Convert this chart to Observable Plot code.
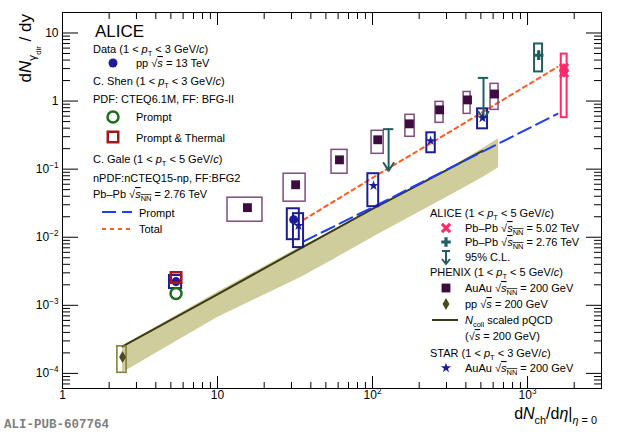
<!DOCTYPE html>
<html><head><meta charset="utf-8">
<script src="https://cdn.jsdelivr.net/npm/d3@7"></script>
<script src="https://cdn.jsdelivr.net/npm/@observablehq/plot@0.6"></script>
<style>
body{margin:0;background:#fff;}
#chart svg{display:block;}
</style></head><body><div id="chart"></div>
<script>
// ---------------- data ----------------
// ALICE pp 13 TeV (MB, high multiplicity)
const ppX = [5.4, 31];
const ppY = [2.23e-3, 1.81e-2];
const ppBoxXlo = [4.9, 28.2], ppBoxXhi = [5.87, 33.7];
const ppBoxYlo = [1.76e-3, 9.2e-3], ppBoxYhi = [2.74e-3, 2.62e-2];
// C. Shen pp 13 TeV
const shenX = [5.4];
const shenPromptY = [1.49e-3];
const shenThermalY = [2.56e-3];
// PHENIX AuAu 200 GeV
const phenixX = [15.6, 31.9, 61.2, 108, 173, 271, 410, 612];
const phenixY = [0.0272, 0.059, 0.137, 0.27, 0.463, 0.743, 1.04, 1.27];
const phenixXlo = [11.6, 26.7, 54.4, 98.6, 163, 255, 387, 577];
const phenixXhi = [19.5, 37, 69, 118, 187, 287, 429, 650];
const phenixYlo = [0.0169, 0.0333, 0.0857, 0.168, 0.299, 0.479, 0.649, 0.743];
const phenixYhi = [0.0381, 0.0857, 0.192, 0.366, 0.628, 0.973, 1.36, 1.79];
// PHENIX pp 200 GeV
const phppX = [2.44], phppY = [1.74e-4];
const phppXlo = [2.26], phppXhi = [2.59], phppYlo = [1.02e-4], phppYhi = [2.5e-4];
// STAR AuAu 200 GeV
const starX = [33.3, 101.5, 237, 512];
const starY = [0.0148, 0.0571, 0.261, 0.567];
const starXlo = [30.9, 93.3, 224, 476], starXhi = [35.9, 109.6, 254, 552];
const starYlo = [7.04e-3, 0.0281, 0.174, 0.391], starYhi = [0.0222, 0.0857, 0.342, 0.769];
// ALICE Pb-Pb 5.02 TeV
const a502X = [1720, 1720];
const a502Y = [3.07, 2.59];
const a502Elo = [2.65, 2.2], a502Ehi = [3.5, 3.0];
const a502BoxXlo = [1650, 1650], a502BoxXhi = [1800, 1800], a502BoxYlo = [0.57, 0.57], a502BoxYhi = [4.9, 4.9];
// ALICE Pb-Pb 2.76 TeV
const a276X = [1180], a276Y = [4.71], a276Elo = [4.0], a276Ehi = [5.5];
const a276BoxXlo = [1110], a276BoxXhi = [1250], a276BoxYlo = [2.68], a276BoxYhi = [6.9];
// ALICE 95% C.L. upper limits
const ulX = [127, 520];
const ulY = [0.387, 2.19];
// C. Gale Pb-Pb 2.76 TeV
const galeX = [36, 108, 300, 1560];
const galePrompt = [0.0087, 0.030, 0.098, 0.649];
const galeTotal = [0.0181, 0.083, 0.33, 3.17];
// Ncoll scaled pQCD (200 GeV)
const ncollX = [2.44, 10, 36, 100, 300, 512];
const ncollY = [2.49e-4, 1.45e-3, 7.3e-3, 0.026, 0.097, 0.186];
const bandX = [2.44, 10, 35, 55, 110, 300, 512, 650];
const bandHi = [2.5e-4, 1.55e-3, 7.4e-3, 0.0118, 0.0275, 0.097, 0.2, 0.279];
const bandLo = [1.02e-4, 6.6e-4, 2.6e-3, 4.6e-3, 0.0112, 0.0385, 0.0745, 0.105];
// axes
const xMajor = [1, 10, 100, 1000];
const xLabels = ["1", "10", "10^{2}", "10^{3}"];
const yMajor = [1e-4, 1e-3, 1e-2, 1e-1, 1, 10];
const yLabels = ["10^{−4}", "10^{−3}", "10^{−2}", "10^{−1}", "1", "10"];

// ---------------- tables ----------------
const zip = (keys, arrs) => arrs[0].map((_, i) => Object.fromEntries(keys.map((k, j) => [k, arrs[j][i]])));
const B = ["x", "y", "x1", "x2", "y1", "y2"];
const pp = zip(B, [ppX, ppY, ppBoxXlo, ppBoxXhi, ppBoxYlo, ppBoxYhi]);
const shen = zip(["x", "p", "t"], [shenX, shenPromptY, shenThermalY]);
const phenix = zip(B, [phenixX, phenixY, phenixXlo, phenixXhi, phenixYlo, phenixYhi]);
const phpp = zip(B, [phppX, phppY, phppXlo, phppXhi, phppYlo, phppYhi]);
const star = zip(B, [starX, starY, starXlo, starXhi, starYlo, starYhi]);
const a502 = zip([...B, "lo", "hi"], [a502X, a502Y, a502BoxXlo, a502BoxXhi, a502BoxYlo, a502BoxYhi, a502Elo, a502Ehi]);
const a276 = zip([...B, "lo", "hi"], [a276X, a276Y, a276BoxXlo, a276BoxXhi, a276BoxYlo, a276BoxYhi, a276Elo, a276Ehi]);
const ul = zip(["x", "y"], [ulX, ulY]);
const gale = zip(["x", "p", "t"], [galeX, galePrompt, galeTotal]);
const ncoll = zip(["x", "y"], [ncollX, ncollY]);
const band = zip(["x", "hi", "lo"], [bandX, bandHi, bandLo]);

const minor = (lo, hi) => { const a = []; for (let e = lo; e <= hi; e++) for (let m = 2; m <= 9; m++) a.push(m * Math.pow(10, e)); return a; };
const xMinor = minor(0, 3).filter(v => v <= 3000);
const yMinor = minor(-5, 1).filter(v => v >= 6e-5 && v <= 20);

// ---------------- colours ----------------
const C = {
  navy: "#1c1c96", green: "#1b6e1b", red: "#a81616", purple: "#3e0d40", purpleBox: "#7d4e7d",
  olive: "#4b4a1c", oliveBox: "#7c7a30", band: "#cfcd9c", ncoll: "#3b3a12", teal: "#1f5f5f",
  pink: "#ff2a6a", orange: "#ff5a1f", blue: "#1f3cf5"
};
const box = (data, stroke, sw) => Plot.rect(data, {x1: "x1", x2: "x2", y1: "y1", y2: "y2", fill: "none", stroke, strokeWidth: sw});
const blank = () => "";

const plot = Plot.plot({
  width: 620, height: 433,
  marginLeft: 62, marginRight: 19, marginTop: 12, marginBottom: 45,
  style: {fontFamily: "'Liberation Sans', Arial, sans-serif", fontSize: "12px", background: "white", overflow: "visible"},
  x: {type: "log", domain: [1, 3000]},
  y: {type: "log", domain: [6e-5, 20]},
  marks: [
    Plot.areaY(band, {x: "x", y1: "lo", y2: "hi", fill: C.band}),
    Plot.line(ncoll, {x: "x", y: "y", stroke: C.ncoll, strokeWidth: 2}),
    Plot.line(gale, {x: "x", y: "p", stroke: C.blue, strokeWidth: 2, strokeDasharray: "14,6"}),
    Plot.line(gale, {x: "x", y: "t", stroke: C.orange, strokeWidth: 2, strokeDasharray: "4,4"}),
    box(phenix, C.purpleBox, 1.5),
    box(phpp, C.oliveBox, 1.5),
    box(star, C.navy, 2),
    box(pp, C.navy, 2),
    box(a502.slice(0, 1), C.pink, 2),
    box(a276, C.teal, 2),
    Plot.ruleX(a502, {x: "x", y1: "lo", y2: "hi", stroke: C.pink, strokeWidth: 2}),
    Plot.ruleX(a276, {x: "x", y1: "lo", y2: "hi", stroke: C.teal, strokeWidth: 2}),
    Plot.ruleY(ul, {y: "y", x1: d => d.x / 1.08, x2: d => d.x * 1.08, stroke: C.teal, strokeWidth: 2}),
    Plot.arrow(ul, {x1: "x", x2: "x", y1: "y", y2: d => d.y / 4.1, stroke: C.teal, strokeWidth: 2, headLength: 7, headAngle: 64}),
    Plot.dot(phpp, {x: "x", y: "y", symbol: "diamond", r: 3.6, fill: C.olive}),
    Plot.dot(shen, {x: "x", y: "p", symbol: "circle", r: 5.5, stroke: C.green, strokeWidth: 2.5, fill: "none"}),
    Plot.dot(pp, {x: "x", y: "y", symbol: "circle", r: 4.5, fill: C.navy}),
    Plot.dot(shen, {x: "x", y: "t", symbol: "square", r: 5.9, stroke: C.red, strokeWidth: 2.5, fill: "none"}),
    Plot.dot(phenix, {x: "x", y: "y", symbol: "square", r: 5, fill: C.purple}),
    Plot.dot(star, {x: "x", y: "y", symbol: "star", r: 3.2, fill: C.navy}),
    Plot.dot(a276, {x: "x", y: "y", symbol: "cross", r: 4, fill: C.teal}),
    Plot.dot(a502, {x: "x", y: "y", symbol: "times", r: 3.8, stroke: C.pink, strokeWidth: 3}),
    Plot.frame({stroke: "black", strokeWidth: 1}),
    Plot.axisX(xMajor, {anchor: "bottom", tickSize: -12, tickPadding: 14, fontSize: 12, label: null, tickFormat: d => xLabels[xMajor.indexOf(d)]}),
    Plot.axisX(xMinor, {anchor: "bottom", tickSize: -6, label: null, tickFormat: blank}),
    Plot.axisX(xMajor, {anchor: "top", tickSize: -12, label: null, tickFormat: blank}),
    Plot.axisX(xMinor, {anchor: "top", tickSize: -6, label: null, tickFormat: blank}),
    Plot.axisY(yMajor, {anchor: "left", tickSize: -16, tickPadding: 20, fontSize: 12, label: null, tickFormat: d => yLabels[yMajor.indexOf(d)]}),
    Plot.axisY(yMinor, {anchor: "left", tickSize: -8, label: null, tickFormat: blank}),
    Plot.axisY(yMajor, {anchor: "right", tickSize: -16, label: null, tickFormat: blank}),
    Plot.axisY(yMinor, {anchor: "right", tickSize: -8, label: null, tickFormat: blank})
  ]
});
document.getElementById("chart").appendChild(plot);

// ---------------- rich text ----------------
const NS = "http://www.w3.org/2000/svg";
function parse(s) {
  const out = [], stack = [{sub: 0, sup: 0, it: false, over: false}]; let buf = "";
  const flush = () => { if (buf) { out.push({...stack[stack.length - 1], text: buf}); buf = ""; } };
  for (let i = 0; i < s.length; i++) {
    const c = s[i];
    if ("_^*~".includes(c) && s[i + 1] === "{") {
      flush(); const t = {...stack[stack.length - 1]};
      if (c === "_") t.sub++; if (c === "^") t.sup++; if (c === "*") t.it = true; if (c === "~") t.over = true;
      stack.push(t); i++;
    } else if (c === "}" && stack.length > 1) { flush(); stack.pop(); }
    else buf += c;
  }
  flush(); return out;
}
function rich(el, s) {
  const base = parseFloat(getComputedStyle(el).fontSize) || 12;
  el.textContent = "";
  let cur = 0;
  for (const g of parse(s)) {
    const ts = document.createElementNS(NS, "tspan");
    const target = g.sub * 0.3 * base - g.sup * 0.42 * base;
    if (Math.abs(target - cur) > 1e-6) { ts.setAttribute("dy", (target - cur).toFixed(2)); cur = target; }
    const lv = g.sub + g.sup;
    if (lv) ts.setAttribute("font-size", (base * Math.pow(0.68, lv)).toFixed(2));
    if (g.it) ts.setAttribute("font-style", "italic");
    if (g.over) ts.setAttribute("text-decoration", "overline");
    ts.textContent = g.text;
    el.appendChild(ts);
  }
}
const svg = d3.select(plot);
svg.selectAll("text").each(function () { const t = this.textContent; if (/[_^*~]\{/.test(t)) rich(this, t); });

function label(x, y, s, size = 11, opts = {}) {
  const t = svg.append("text").attr("x", x).attr("y", y).attr("font-size", size)
    .attr("font-family", opts.family || "'Liberation Sans', Arial, sans-serif")
    .attr("fill", opts.fill || "black").attr("text-anchor", opts.anchor || "start");
  if (opts.weight) t.attr("font-weight", opts.weight);
  if (opts.transform) t.attr("transform", opts.transform).attr("x", null).attr("y", null);
  rich(t.node(), s);
  return t;
}
function sym(type, x, y, r, attrs) {
  const p = svg.append("path").attr("transform", `translate(${x},${y})`).attr("d", d3.symbol(type, Math.PI * r * r)());
  for (const k in attrs) p.attr(k, attrs[k]);
}
function seg(x1, x2, y, stroke, dash, sw = 2) {
  svg.append("line").attr("x1", x1).attr("x2", x2).attr("y1", y).attr("y2", y)
    .attr("stroke", stroke).attr("stroke-width", sw).attr("stroke-dasharray", dash || null);
}

// titles
label(0, 0, "d*{N}_{γ_{dir}} / dy", 17, {anchor: "end", transform: "translate(31,14) rotate(-90)"});
label(597, 419, "d*{N}_{ch}/d*{η}|_{*{η} = 0}", 16, {anchor: "end"});
label(4, 428, "ALI-PUB-607764", 12.5, {family: "'Liberation Mono', 'DejaVu Sans Mono', monospace", fill: "#808080", weight: "bold"});

// left legend
label(95, 37, "ALICE", 17);
label(93, 53, "Data (1 < *{p}_{T} < 3 GeV/*{c})");
sym(d3.symbolCircle, 113, 63, 4.5, {fill: C.navy});
label(136, 67, "pp √~{*{s}} = 13 TeV");
label(93, 85, "C. Shen (1 < *{p}_{T} < 3 GeV/*{c})");
label(93, 103, "PDF: CTEQ6.1M, FF: BFG-II");
sym(d3.symbolCircle, 113, 117, 5.5, {fill: "none", stroke: C.green, "stroke-width": 2.5});
label(136, 121, "Prompt");
sym(d3.symbolSquare, 113, 137, 5.9, {fill: "none", stroke: C.red, "stroke-width": 2.5});
label(136, 142, "Prompt & Thermal");
label(93, 163, "C. Gale (1 < *{p}_{T} < 5 GeV/*{c})");
label(93, 182, "nPDF:nCTEQ15-np, FF:BFG2");
label(93, 198, "Pb–Pb √~{*{s}_{NN}} = 2.76 TeV");
seg(102, 132, 212, C.blue, "14,6");
label(139, 217, "Prompt");
seg(102, 132, 229, C.orange, "4,4");
label(139, 233, "Total");

// right legend
label(430, 217, "ALICE (1 < *{p}_{T} < 5 GeV/*{c})");
sym(d3.symbolTimes, 446, 228, 3.8, {fill: "none", stroke: C.pink, "stroke-width": 3});
label(465, 232, "Pb–Pb √~{*{s}_{NN}} = 5.02 TeV");
sym(d3.symbolCross, 446, 242, 4, {fill: C.teal});
label(465, 246, "Pb–Pb √~{*{s}_{NN}} = 2.76 TeV");
seg(442, 450, 251, C.teal, null, 2);
svg.append("path").attr("d", "M446,251V264M442,259L446,264L450,259").attr("fill", "none").attr("stroke", C.teal).attr("stroke-width", 2);
label(465, 261, "95% C.L.");
label(430, 276, "PHENIX (1 < *{p}_{T} < 5 GeV/*{c})");
sym(d3.symbolSquare, 446, 288, 5, {fill: C.purple});
label(465, 292, "AuAu √~{*{s}_{NN}} = 200 GeV");
sym(d3.symbolDiamond, 446, 304, 3.6, {fill: C.olive});
label(465, 308, "pp √~{*{s}} = 200 GeV");
seg(432, 458, 320, C.ncoll, null, 2);
label(465, 324, "*{N}_{coll} scaled pQCD");
label(465, 340, "(√~{*{s}} = 200 GeV)");
label(430, 357, "STAR (1 < *{p}_{T} < 3 GeV/*{c})");
sym(d3.symbolStar, 446, 368, 3.2, {fill: C.navy});
label(465, 372, "AuAu √~{*{s}_{NN}} = 200 GeV");
</script></body></html>
